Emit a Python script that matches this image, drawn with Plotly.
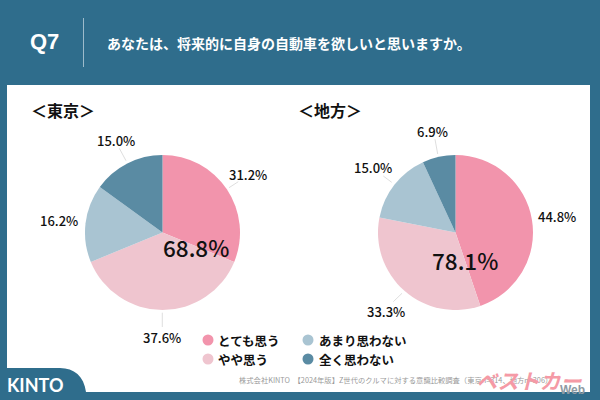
import plotly.graph_objects as go

categories = ["とても思う", "やや思う", "あまり思わない", "全く思わない"]
tokyo = [31.2, 37.6, 16.2, 15.0]
chihou = [44.8, 33.3, 15.0, 6.9]
tokyo_total = "68.8%"
chihou_total = "78.1%"
colors = ["#F294AC", "#EFC5CF", "#A9C4D2", "#5A8BA3"]
BG = "#2F6D8C"
W, H = 600, 400
JP = "Noto Sans CJK JP"
MED = "'Noto Sans CJK JP Medium','Noto Sans CJK JP'"

def px(x): return x / W
def py(y): return 1 - y / H

def pie(vals, x0, x1, y0, y1):
    return go.Pie(labels=categories, values=vals, sort=False, direction="clockwise", rotation=0,
                  marker=dict(colors=colors, line=dict(width=0)), textinfo="none", hoverinfo="label+percent",
                  showlegend=False, domain=dict(x=[px(x0), px(x1)], y=[py(y1), py(y0)]))

fig = go.Figure([pie(tokyo, 85, 240, 155, 310), pie(chihou, 378, 533, 155, 310)])

def note(x, y, text, size=12, color="#111", anchor="center", bold=False, font=JP):
    t = f"<b>{text}</b>" if bold else text
    fig.add_annotation(x=px(x), y=py(y), xref="paper", yref="paper", text=t, showarrow=False,
                       xanchor=anchor, yanchor="middle", font=dict(family=font, size=size, color=color))

shapes = [
    dict(type="path", path="M 7 85 L 590 85 L 590 392 L 86 392 C 84 376 74 368 60 368 L 7 368 Z",
         fillcolor="white", line=dict(width=0)),
    dict(type="line", x0=83.5, x1=83.5, y0=18, y1=67, line=dict(color="#9DBBCB", width=1)),
]
for s in shapes:
    s.update(xref="x", yref="y", layer="below")
fig.update_layout(shapes=shapes)

# leader lines
for x0, y0, x1, y1 in [(119.3, 148.3, 126, 160.7), (229, 187.7, 238.3, 181.7), (162.3, 312.7, 162.3, 327),
                       (435, 139.3, 437.7, 154), (383.3, 176, 391.7, 182.3), (393.3, 301.7, 402, 293.3)]:
    fig.add_shape(type="line", xref="x", yref="y", x0=x0, y0=y0, x1=x1, y1=y1, line=dict(color="#D5D5D5", width=0.8))

# legend dots
for (x, y), c in zip([(208, 340), (208, 359), (308, 340), (308, 359)], colors):
    fig.add_shape(type="circle", xref="x", yref="y", x0=x - 5.5, x1=x + 5.5, y0=y - 5.5, y1=y + 5.5,
                  fillcolor=c, line=dict(width=0))
for (x, y), c in zip([(216, 340), (216, 359), (317, 340), (317, 359)], categories):
    note(x, y, c, 12.5, "#111", "left", True)

note(28, 42, "Q7", 22, "white", "left", True, "Liberation Sans")
note(105, 43, "あなたは、将来的に自身の自動車を欲しいと思いますか。", 14, "white", "left", True)
note(29, 110, "＜東京＞", 16, "#111", "left", True)
note(296, 110, "＜地方＞", 16, "#111", "left", True)

for (x, y), v in zip([(248, 174), (162, 337), (59, 220), (116, 140)], tokyo):
    note(x, y, f"{v:.1f}%", 13, "#111", font=MED)
for (x, y), v in zip([(557, 216), (386, 311), (373, 168), (432, 131)], chihou):
    note(x, y, f"{v:.1f}%", 13, "#111", font=MED)

note(196, 247, tokyo_total, 22.5, "#111", font=MED)
note(465, 260, chihou_total, 22.5, "#111", font=MED)

note(237, 380, "株式会社KINTO　【2024年版】Z世代のクルマに対する意識比較調査（東京n=314、地方n=306）", 7.3, "#9A9A9A", "left")
note(474, 380, "<i>ベストカー</i>", 21, "#F59AA6", "left", True)
note(572, 390, "Web", 12, "#8F9AA3", "center", True, "Liberation Sans")
note(5, 385, "KINTO", 18, "white", "left", True, "Lato")

fig.update_layout(width=W, height=H, margin=dict(l=0, r=0, t=0, b=0), paper_bgcolor=BG, plot_bgcolor="rgba(0,0,0,0)",
                  xaxis=dict(range=[0, W], visible=False, fixedrange=True),
                  yaxis=dict(range=[H, 0], visible=False, fixedrange=True))
fig.write_html("out.html", config=dict(displayModeBar=False),
               post_script="document.body.style.margin='0';document.body.style.overflow='hidden';document.body.style.background='%s';" % BG)
